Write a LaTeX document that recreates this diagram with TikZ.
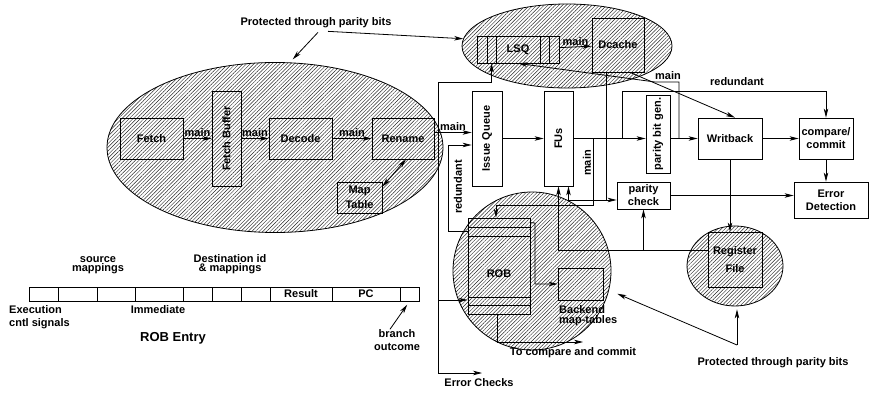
\documentclass[tikz,border=0pt]{standalone}
\usepackage{fontspec}
\setmainfont{Liberation Sans}
\usetikzlibrary{arrows.meta,patterns.meta,shapes.geometric}

\newcommand\lblfont{\fontsize{11}{13}\selectfont\bfseries}
\newcommand\tightfont{\fontsize{11}{9.5}\selectfont\bfseries}

\tikzset{
  >={Stealth[length=9pt,width=4.5pt,inset=2.5pt]},
  every node/.style={font=\lblfont, inner sep=0pt},
  blk/.style={draw, line width=0.8pt, align=center},
  zone/.style={draw, ellipse, line width=0.8pt,
    pattern={Lines[angle=45, distance=2.6pt, line width=0.45pt]}, pattern color=black!85},
  arr/.style={->, line width=0.8pt},
  cell/.style={draw, line width=0.8pt, minimum height=14pt},
}

\begin{document}
\begin{tikzpicture}[x=1pt,y=-1pt]
  \useasboundingbox (0,0) rectangle (870,395);

  % protected regions
  \node[zone, minimum width=336pt, minimum height=170pt] (front) at (275,147.5) {};
  \node[zone, minimum width=210pt, minimum height=84pt] (memzone) at (567,46) {};
  \node[zone, minimum width=158pt, minimum height=158pt] (robzone) at (532,271) {};
  \node[zone, minimum width=96pt, minimum height=80pt] (rfzone) at (735,266) {};

  % front end
  \node[blk, minimum width=63pt, minimum height=41pt] (fetch) at (151.5,138.5) {Fetch};
  \node[blk, minimum width=29pt, minimum height=95pt] (fbuf) at (226.5,138.5) {\rotatebox{90}{Fetch Buffer}};
  \node[blk, minimum width=63pt, minimum height=41pt] (decode) at (300.5,138.5) {Decode};
  \node[blk, minimum width=62pt, minimum height=41pt] (rename) at (403,138.5) {Rename};
  \node[blk, minimum width=45pt, minimum height=31pt, font=\fontsize{11}{15}\selectfont\bfseries] (maptab) at (359.5,197.5) {Map\\Table};

  % back end
  \node[blk, fill=white, minimum width=30pt, minimum height=95pt] (iq) at (487,138.5) {\rotatebox{90}{Issue Queue}};
  \node[blk, fill=white, minimum width=29pt, minimum height=95pt] (fus) at (558.5,138.5) {\rotatebox{90}{FUs}};
  \node[blk, minimum width=82pt, minimum height=27pt] (lsq) at (518,49.5) {LSQ};
  \foreach \xx in {487,496,540,549}
    \draw[line width=0.8pt] (lsq.north -| \xx,0) -- (lsq.south -| \xx,0);
  \node[blk, minimum width=52pt, minimum height=54pt] (dcache) at (618,45) {Dcache};
  \node[blk, fill=white, minimum width=24pt, minimum height=78pt] (pbg) at (658,134) {\rotatebox{90}{parity bit gen.}};
  \node[blk, fill=white, minimum width=64pt, minimum height=41pt] (wb) at (730,138.5) {Writback};
  \node[blk, fill=white, minimum width=54pt, minimum height=41pt] (cmp) at (826,138.5) {compare/\\commit};
  \node[blk, fill=white, minimum width=74pt, minimum height=36pt] (errdet) at (831,200) {Error\\Detection};
  \node[blk, fill=white, minimum width=53pt, minimum height=27pt] (pchk) at (643.5,195.5) {parity\\check};

  % ROB and register file
  \node[blk, minimum width=62pt, minimum height=96pt] (rob) at (499,266) {};
  \foreach \yy in {227,236,297,305}
    \draw[line width=0.8pt] (rob.west |- 0,\yy) -- (rob.east |- 0,\yy);
  \node (roblbl) at (499,274) {ROB};
  \node[blk, minimum width=45pt, minimum height=32pt] (backend) at (580.5,284) {};
  \node[anchor=north west, align=left, font=\fontsize{11}{10}\selectfont\bfseries] (bklbl) at (559,305) {Backend\\map-tables};
  \node[blk, minimum width=54pt, minimum height=55pt] (rfbox) at (735,259.5) {Register\\[5pt]File};

  % pipeline flow
  \draw[arr] (fetch) -- node[above=1pt] {main} (fbuf);
  \draw[arr] (fbuf) -- node[above=1pt] {main} (decode);
  \draw[arr] (decode) -- node[above=1pt] {main} (rename);
  \draw[<->, line width=0.8pt] ([yshift=-5pt]maptab.north east) -- ([xshift=3pt]rename.south);
  \draw[arr] ([yshift=6pt]rename.east) -- node[above=1pt] {main} ([yshift=6pt]rename.east -| iq.west);
  \draw[arr] (iq) -- (fus);
  \draw[arr] (fus) -- (fus -| pbg.west);
  \draw[arr] (pbg.east |- wb) -- (wb);
  \draw[arr] (wb) -- (cmp);
  \draw[arr] (cmp.south) -- (cmp.south |- errdet.north);
  \draw[arr] (wb.south) -- (wb.south |- rfbox.north);
  \draw[arr] (pchk) -- (pchk -| errdet.west);

  % redundant copies
  \draw[arr] (622,138.5) |- (826,91) -- (cmp.north);
  \node (redlbl) at (737,82) {redundant};
  \draw[arr] ([yshift=-14pt]rob.north west) -| (448,145) -- (iq.west |- 0,145);
  \node[rotate=90] (redlbl2) at (458,187) {redundant};

  % memory side
  \draw[arr] (lsq) -- node[above=1pt] {main} (dcache);
  \draw[arr] (679,138.5) |- (655,82) -- (lsq.south);
  \node (mainlbl) at (668,76) {main};
  \draw[arr] ([xshift=12pt]dcache.south) -- ([xshift=5pt]wb.north);
  \draw[arr] ([xshift=15pt]dcache.south west) |- (pchk.west |- 0,200);
  \draw[arr] (607,200) -| ([xshift=10pt]fus.south);
  \draw[arr] (593,138.5) |- (496,205) -- (rob.north -| 496,0);
  \node[rotate=90] (mainlbl2) at (587,163) {main};
  \draw[arr] ([yshift=9.5pt]rfbox.west) -| (fus.south);
  \draw[arr] (pchk.south |- 0,250) -- (pchk.south);

  % error checks
  \coordinate (trunk) at (438,82);
  \coordinate (errend) at (482,373);
  \draw[arr] (trunk) -| ([xshift=15pt]lsq.south west);
  \draw[arr] (trunk) |- (errend);
  \draw[arr] (438,300) -- (rob.west |- 0,300);
  \node (errlbl) at (479,383) {Error Checks};

  % ROB outputs
  \draw[arr] ([yshift=-5pt]rob.north east) -- (535,223) |- (backend.west);
  \coordinate (cmpend) at (583,342);
  \draw[arr] ([xshift=-2pt]rob.south) |- (cmpend);
  \node (cmplbl) at (573,353) {To compare and commit};

  % parity protection notes
  \node (prot1) at (316,23) {Protected through parity bits};
  \draw[arr, shorten >=4pt] ([xshift=2pt,yshift=-4pt]prot1.south) -- ([xshift=15pt]front.north);
  \draw[arr] ([xshift=12pt,yshift=-3pt]prot1.south) -- (memzone.176);
  \node (prot2) at (773,363) {Protected through parity bits};
  \coordinate (pfork) at (737,345);
  \draw[arr, shorten >=3pt] (pfork) -- (pfork |- rfzone.south);
  \draw[arr, shorten >=9pt] (pfork) -- (robzone.-14);

  % ROB entry layout
  \foreach \a/\b/\t [count=\i] in {29/58/{},58/97/{},97/135/{},135/183/{},183/212/{},212/241/{},241/270/{},270/332/Result,332/400/PC,400/419/{}}
    \node[cell, minimum width={(\b-\a)*1pt}] (c\i) at ({(\a+\b)/2},294) {\t};
  \node[align=center, font=\tightfont] (srclbl) at (98,265) {source\\mappings};
  \node[align=center, font=\tightfont] (dstlbl) at (230,264) {Destination id\\\& mappings};
  \node[align=left, anchor=west] (exlbl) at (9,317) {Execution\\cntl signals};
  \node (immlbl) at (158,310) {Immediate};
  \node[font=\fontsize{13}{15}\selectfont\bfseries] (entrylbl) at (173,338) {ROB Entry};
  \node[align=center] (brlbl) at (397,340) {branch\\outcome};
  \draw[arr, shorten >=4pt] ([xshift=-7pt]brlbl.north) -- (c10.south);
\end{tikzpicture}
\end{document}
